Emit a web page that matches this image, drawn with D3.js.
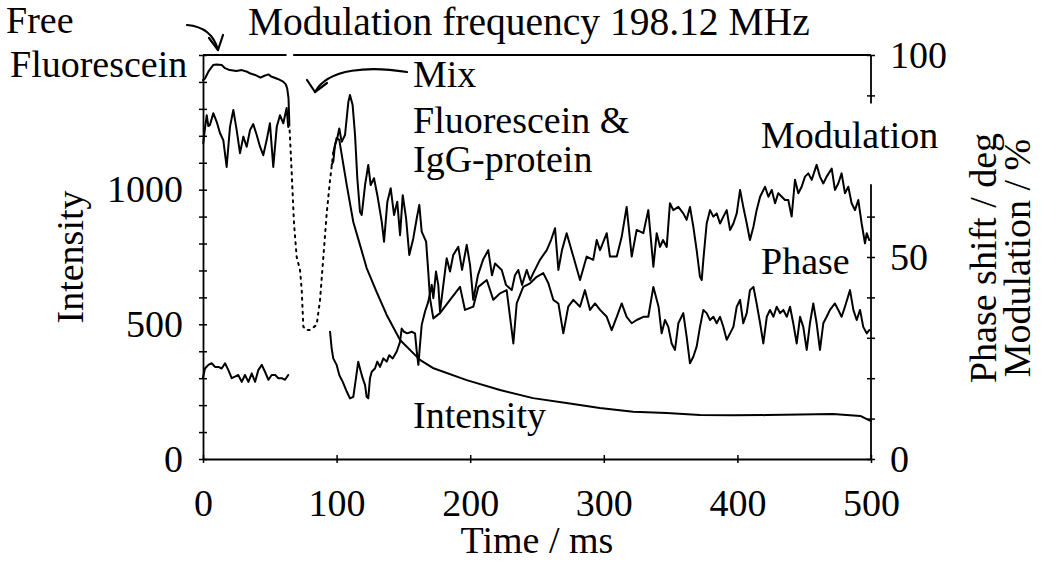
<!DOCTYPE html>
<html>
<head>
<meta charset="utf-8">
<script src="https://cdn.jsdelivr.net/npm/d3@7"></script>
<style>
  html, body { margin: 0; padding: 0; background: #fff; }
  svg { display: block; }
  text { font-family: "Liberation Serif", "Times New Roman", serif; fill: #000; }
</style>
</head>
<body>
<svg id="chart" width="1046" height="561"></svg>
<script>
// ---------- DATA (time in ms; intensity in counts; phase in deg; modulation in %) ----------
const freeIntensity = [[0,1407],[1.5,1413],[4,1438],[7.7,1463],[10,1465],[14,1463],[16.5,1451],[20,1444],[25,1441],[29,1444],[33,1438],[35,1432],[39,1426],[43,1416],[46,1423],[49,1428],[51,1420],[56,1411],[60,1401],[62,1391],[63,1376],[64,1340],[64.6,1250]];
const transitionIntensity = [[64.6,1246],[66.4,1062],[68.1,876],[70.1,751],[72.6,702],[73.9,627],[75.1,491],[77.1,479],[80.1,479],[85.1,498],[87.6,590],[90.1,751],[92.6,913],[95.1,1036],[97.5,1136]];
const mixIntensity = [[97.5,1136],[100,1192],[102,1185],[107.6,1017],[112.5,880],[117.5,795],[122.5,709],[130,620],[137.5,535],[147.5,442],[162.4,368],[172,338],[197.4,293],[222.3,256],[247,226],[272,208],[297,189],[322,175],[347,171],[372,163],[397,162],[422,163],[447,165],[471.5,167],[492,160],[498,145],[500,141]];
const freePhase = [[0.2,78.2],[1.5,81.9],[2.8,85.1],[4,82.4],[5.2,82.7],[7.7,85.6],[10.3,83.4],[12.7,80.7],[15.2,78.9],[17.7,72.3],[20.2,82.2],[22.7,86.4],[25.2,81.4],[27.7,75.7],[30.2,79.8],[32.7,77.3],[35.2,81.4],[37.6,82.9],[40.2,80.2],[42.7,77.3],[45.1,75.2],[47.7,79],[50.1,83.1],[52.6,72.3],[55.2,82.2],[57.6,85.1],[60.1,83.1],[62.6,86.9],[63.8,82.2]];
const freeModulation = [[0,20.2],[1.5,22.4],[4,23.3],[6.5,23.7],[9,22.8],[11.5,22.8],[14,22.4],[16.5,23.7],[19,22],[21.5,20],[24,20.4],[26.4,20.8],[29,19.1],[31.4,20.8],[34,19.1],[36.5,21.2],[39,19.1],[41.4,22],[44,23.3],[46.4,21.6],[49,19.6],[51.4,20.8],[54,20.8],[56.4,20],[59,20],[61.4,19.6],[63.8,20.8]];
const mixPhase = [[96.3,72.8],[97.5,73.6],[98.8,77.7],[100.5,79.4],[102,81.8],[103.8,78.5],[106.3,80.2],[108.8,88.4],[110,90.1],[112,87.6],[113.8,80.2],[115.5,69.5],[117.5,61.2],[118.8,60.4],[121.3,67.8],[123.7,72.8],[125.5,67.8],[128,69.5],[130.5,65.3],[133.8,58.7],[135.5,53.8],[138,63.7],[140.5,67],[143,60.4],[145.4,63.7],[147.5,55.4],[149.5,65.3],[152,59.6],[154.4,50.5],[157.4,54.6],[160,59.6],[161.9,62.9],[163.7,56.3],[167,53.8],[168.6,46.4],[169.9,39.8],[172.4,34.8],[177.4,36.1],[184.9,39.4],[192.4,42.6],[196.1,36.9],[202.3,37.7],[206.1,42.6],[212.4,44.3],[217.3,39.4],[222.3,41],[227.3,41.8],[232.3,28.6],[234.8,38.5],[239.7,42.6],[244.8,43.5],[249.8,45.1],[254.7,46],[258.5,43.5],[262.2,39.4],[266,38.5],[269.7,31.1],[273.4,37.7],[277.2,39.4],[282.2,37.7],[285.9,41.8],[289.7,36.9],[293.4,38.5],[297.2,36.9],[302.2,35.2],[305.9,31.9],[309.7,35.2],[313.4,38.5],[317.1,35.2],[320.9,33.6],[324.6,34.4],[329.6,35.2],[333.3,35.2],[337.1,42.6],[341,37.7],[343.3,31.1],[345.8,34.4],[348.3,32.7],[350.8,28.6],[353.3,27],[355.8,33.6],[359.5,36.1],[362,30.3],[364.5,23.7],[367,25.3],[369.5,27.8],[372,32.7],[374.5,36.9],[377,36.1],[379.5,34.4],[382,35.2],[384.5,33.6],[387,35.2],[389.5,32.7],[392,29.5],[394.5,31.1],[397,32.7],[399.5,37.7],[402,39.4],[404.4,33.6],[407,36.1],[409.4,41.8],[412,42.6],[414.4,38.5],[417,33.6],[419.4,28.6],[422,35.2],[424.4,36.9],[427,35.2],[429.4,37.7],[432,36.1],[434.4,36.9],[437,35.2],[439.4,37.7],[441.8,33.6],[444.4,28.6],[446.9,35.2],[449.3,32.7],[451.9,27],[454.3,33.6],[456.8,38.5],[459.3,33.6],[461.8,27],[464.3,33.6],[466.8,35.2],[469.3,36.9],[473,38.5],[475.5,36.9],[478,35.2],[480.5,37.7],[484.3,41.8],[486.8,36.9],[489.3,34.4],[491.8,36.9],[494.2,32.7],[496.8,31.1],[498.7,31.9]];
const mixModulation = [[95.1,31.5],[96.3,27.4],[97.5,24.9],[100,23.3],[102,20.8],[104.6,19.1],[107.6,16.7],[110,15],[112.5,15.4],[114.5,20],[116.2,24.1],[117.5,22.4],[119.5,20],[121.3,18.3],[122.5,15.4],[123.7,15],[125,20],[126.3,21.6],[128.7,22.4],[130.5,24.1],[132.5,22.8],[135,24.9],[137.5,24.1],[139.4,25.7],[142,24.9],[145,26.6],[147.5,29],[148.7,32.3],[150.4,31.5],[152.9,31.1],[156.2,31.5],[158.7,31.1],[160,26.6],[161.2,23.3],[162.4,28.2],[163.7,33.2],[166.2,36.5],[168.6,38.9],[171.2,43.1],[172.4,39.8],[174.4,46.4],[176.1,43.1],[177.4,36.5],[179.9,43.1],[182.4,49.7],[184.9,46.4],[187.3,50.5],[191.1,52.5],[193.9,46.8],[197.4,53],[199.9,48],[202.3,39.4],[205.8,45.5],[209.6,49.3],[213.5,51.7],[216.3,45.5],[218.6,48.4],[223.6,46.8],[226.8,43.1],[231.1,41.8],[233.5,45.5],[236,46.8],[238.8,43.1],[242.3,46.8],[244.8,44.3],[247.2,46],[252.2,49.3],[257.3,51.7],[260.5,54.2],[263.5,57.1],[266,46.8],[268.7,51.7],[272.2,55.9],[277.2,50.1],[282.2,44.3],[287.2,50.1],[292.1,49.3],[294.7,54.2],[297.2,51.7],[302.2,55.9],[304.6,50.1],[309.7,50.1],[313.4,55],[317.1,62.4],[320.9,50.1],[324.6,56.7],[329.6,55.9],[333.3,61.6],[337.1,47.6],[339.6,55.9],[342.1,52.5],[344.3,54.2],[347.1,52.5],[349.5,63.3],[352,61.6],[355.8,62.4],[359.5,60.8],[362,59.2],[364.5,62.4],[367,57.5],[369.5,51.7],[372,45.1],[373.3,44.3],[374.5,49.3],[377,58.3],[379.5,61.6],[382,60],[384.5,60.8],[387,58.3],[389.5,60],[392,61.6],[394.5,56.7],[397,58.3],[399.5,60.8],[402,66.6],[404.4,62.4],[407,58.3],[409.4,54.2],[412,57.5],[414.4,61.6],[417,64.9],[420.7,67.4],[423.2,64.9],[425.7,66.6],[428.2,63.3],[430.6,65.8],[433.2,64.9],[435.6,64.1],[438.1,64.1],[440.6,60],[443.1,69.1],[445.6,65.8],[448.1,67.4],[450.6,69.9],[453.1,70.7],[455.6,69.1],[459.3,72.8],[461.8,69.9],[464.3,68.2],[466.8,69.9],[470.6,71.9],[473,66.6],[475.5,68.2],[478,70.7],[480.5,65.8],[483,67.4],[485.5,63.3],[488,61.6],[490.5,64.1],[493,58.3],[495.5,53.4],[496.8,55.9],[498.7,54.2]];

const xTickValues = [0, 100, 200, 300, 400, 500];
const leftTickValues = d3.range(0, 1501, 100);
const leftTickLabels = [0, 500, 1000];
const rightTickValues = [0, 10, 20, 30, 40, 50, 60, 90, 100];
const rightTickLabels = [0, 50, 100];

// ---------- LAYOUT ----------
const svg = d3.select("#chart");
svg.append("rect").attr("width", 1046).attr("height", 561).attr("fill", "#fff");
const FS = 38;
const FF = "'Liberation Serif', 'Times New Roman', serif";
const x = d3.scaleLinear().domain([0, 500]).range([203, 871]);
const yL = d3.scaleLinear().domain([0, 1500]).range([459, 55]);
const yR = d3.scaleLinear().domain([0, 100]).range([459, 55]);

const lineL = d3.line().x(d => x(d[0])).y(d => yL(d[1]));
const lineR = d3.line().x(d => x(d[0])).y(d => yR(d[1]));

// Left axis
const gL = svg.append("g").attr("transform", "translate(203,0)")
  .call(d3.axisLeft(yL).tickValues(leftTickValues).tickSize(4).tickSizeOuter(0)
    .tickFormat(d => leftTickLabels.includes(d) ? d : ""));
gL.attr("font-family", FF);
gL.selectAll(".tick line").attr("x1", 4).attr("stroke-width", 1.5);
gL.select(".domain").attr("stroke-width", 1.8);
gL.selectAll(".tick text").attr("x", -20).attr("font-size", FS);

// Right axis
const gR = svg.append("g").attr("transform", "translate(871,0)")
  .call(d3.axisRight(yR).tickValues(rightTickValues).tickSize(4).tickSizeOuter(0)
    .tickFormat(d => rightTickLabels.includes(d) ? d : ""));
gR.attr("font-family", FF);
gR.select(".domain").remove();
gR.selectAll(".tick line").attr("x1", -4).attr("stroke-width", 1.5);
gR.selectAll(".tick text").attr("x", 19).attr("font-size", FS);
gR.append("line").attr("x1", 0).attr("x2", 0).attr("y1", yR(100)).attr("y2", yR(88)).attr("stroke", "#000").attr("stroke-width", 1.8);
gR.append("line").attr("x1", 0).attr("x2", 0).attr("y1", yR(68)).attr("y2", yR(0)).attr("stroke", "#000").attr("stroke-width", 1.8);

// Bottom axis
const gB = svg.append("g").attr("transform", "translate(0,459)")
  .call(d3.axisBottom(x).tickValues(xTickValues).tickSize(4).tickSizeOuter(0));
gB.attr("font-family", FF);
gB.selectAll(".tick line").attr("y1", -4).attr("stroke-width", 1.5);
gB.select(".domain").attr("stroke-width", 1.8);
gB.selectAll(".tick text").attr("y", 57).attr("dy", 0).attr("font-size", FS);

// Top frame (with small gap)
svg.append("line").attr("x1", x(0)).attr("x2", x(62.5)).attr("y1", 55).attr("y2", 55).attr("stroke", "#000").attr("stroke-width", 1.8);
svg.append("line").attr("x1", x(67.5)).attr("x2", x(500)).attr("y1", 55).attr("y2", 55).attr("stroke", "#000").attr("stroke-width", 1.8);

// ---------- SERIES ----------
const solid = (sel) => sel.attr("fill", "none").attr("stroke", "#000").attr("stroke-width", 2).attr("stroke-linejoin", "round").attr("stroke-linecap", "round");
svg.append("path").datum(freeIntensity).attr("d", lineL).call(solid);
svg.append("path").datum(mixIntensity).attr("d", lineL).call(solid);
svg.append("path").datum(transitionIntensity).attr("d", lineL).call(solid).attr("stroke-dasharray", "2,5");
svg.append("path").datum(freePhase).attr("d", lineR).call(solid);
svg.append("path").datum(freeModulation).attr("d", lineR).call(solid);
svg.append("path").datum(mixPhase).attr("d", lineR).call(solid);
svg.append("path").datum(mixModulation).attr("d", lineR).call(solid);

// ---------- ANNOTATIONS ----------
const txt = (s, px, py, size) => svg.append("text").attr("x", px).attr("y", py).attr("font-size", size || FS).attr("font-family", FF).text(s);
txt("Free", 6, 33);
txt("Fluorescein", 10, 77);
txt("Modulation frequency 198.12 MHz", 248, 35, 39.5);
txt("Mix", 413, 87);
txt("Fluorescein &", 413, 133);
txt("IgG-protein", 413, 172);
txt("Modulation", 761, 148);
txt("Phase", 761, 274);
txt("Intensity", 413, 428);

const rot = (s, px, py) => svg.append("text").attr("transform", `translate(${px},${py}) rotate(-90)`).attr("text-anchor", "middle").attr("font-size", FS).attr("font-family", FF).text(s);
rot("Intensity", 83, 257);
rot("Phase shift / deg", 996, 258);
rot("Modulation / %", 1030, 258);
svg.append("text").attr("x", x(250)).attr("y", 553).attr("text-anchor", "middle").attr("font-size", FS).attr("font-family", FF).text("Time / ms");

// arrows
const arrow = (d) => svg.append("path").attr("d", d).attr("fill", "none").attr("stroke", "#000").attr("stroke-width", 2.2).attr("stroke-linecap", "round").attr("stroke-linejoin", "round");
arrow("M187,25 Q212,27 218,50");
arrow("M209,38 L218,50 L223,35");
arrow("M407,72 C370,66 328,68 315,92");
arrow("M307,80 L315,92 L327,83");
</script>
</body>
</html>
